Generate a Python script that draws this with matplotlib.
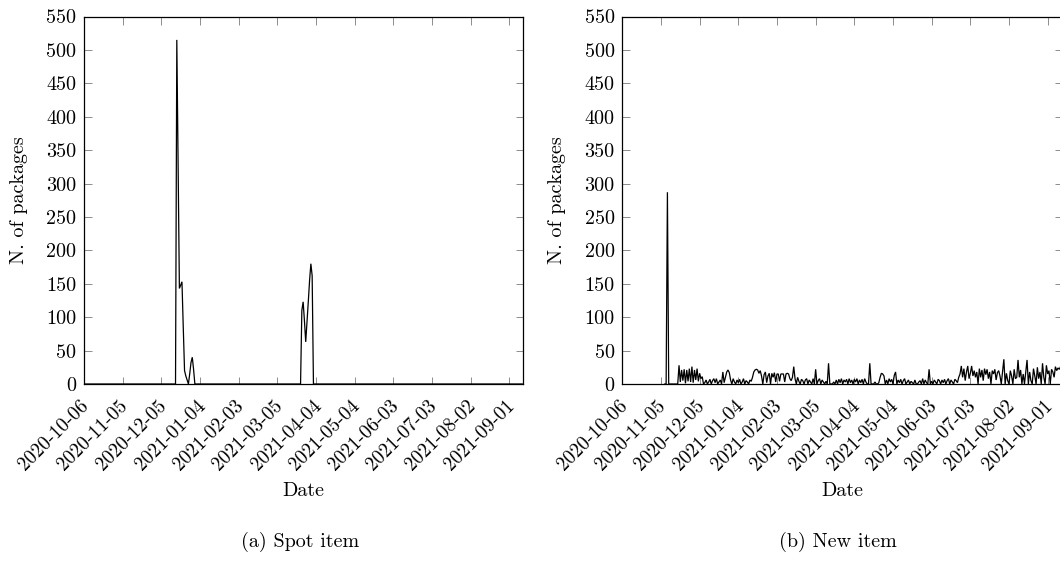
import matplotlib
matplotlib.use('Agg')
import matplotlib.pyplot as plt
import matplotlib.transforms as mtrans
import pandas as pd

# ---------------- data ----------------
tick_labels = ['2020-10-06', '2020-11-05', '2020-12-05', '2021-01-04', '2021-02-03',
               '2021-03-05', '2021-04-04', '2021-05-04', '2021-06-03', '2021-07-03',
               '2021-08-02', '2021-09-01']
y_ticks = [0, 50, 100, 150, 200, 250, 300, 350, 400, 450, 500, 550]

spot_dates = ['2020-10-06', '2020-12-16', '2020-12-17', '2020-12-18', '2020-12-19',
              '2020-12-20', '2020-12-21', '2020-12-22', '2020-12-23', '2020-12-24',
              '2020-12-25', '2020-12-26', '2020-12-27', '2020-12-28', '2020-12-29',
              '2020-12-30', '2020-12-31',
              '2021-03-23', '2021-03-24', '2021-03-25', '2021-03-26', '2021-03-27',
              '2021-03-28', '2021-03-29', '2021-03-30', '2021-03-31', '2021-04-01',
              '2021-04-02', '2021-09-11']
spot_values = [0, 0, 515, 330, 143,
               148, 153, 85, 20, 12,
               6, 0, 15, 32, 40,
               22, 0,
               0, 110, 123, 95, 63,
               93, 123, 155, 180, 162,
               0, 0]

new_start = '2020-11-08'
new_values = [
    0, 0, 287, 0,
    0, 0, 0, 0, 0, 0,
    0, 28, 3, 21, 5, 22, 1, 21, 4, 23, 3, 26, 2, 21, 6, 23, 4, 16, 8, 11,
    0, 2, 6, 0, 3, 7, 0, 5, 8, 2, 8, 0, 3, 6, 0,
    18, 2, 10, 18, 21, 17, 6,
    0, 8, 3, 0, 6, 2, 7, 0, 3, 8, 0, 5, 3, 0, 6, 4,
    10, 18, 21, 22, 21, 16, 20, 12,
    0, 14, 18, 2, 12, 16, 0, 16, 10, 17, 3,
    15, 15, 4, 15, 15, 15, 3, 15, 16, 15, 8,
    5, 10, 26, 8, 0, 10,
    4, 0, 7, 5, 0, 6, 8, 0, 6, 3, 0, 8, 0,
    22, 0, 5, 8, 0, 6, 3, 0, 4, 0,
    31, 0, 0, 0, 3, 0,
    6, 0, 7, 2, 8, 0, 6, 3, 7, 0, 8, 2, 6, 0, 7, 3, 8, 0, 6, 2, 7, 0, 8, 3,
    0, 0, 31, 0, 0, 0, 3, 0, 0, 2,
    10, 16, 15, 12, 0,
    6, 0, 8, 3, 7, 0, 13, 18, 0, 6, 2, 7, 0, 5, 8, 0, 3, 6, 0, 4, 2, 0,
    6, 0, 0, 3, 5, 0, 8, 0, 6, 2, 0, 22, 0,
    4, 0, 6, 3, 0, 7, 5, 0, 6, 2, 7, 0, 5, 8, 0, 6, 3, 0, 7, 5, 2, 10,
    15, 27, 10, 23, 5, 18, 27, 8, 16, 27, 12, 20, 10,
    18, 0, 23, 10, 21, 5, 23, 14, 22, 8, 18, 0, 20, 15, 22, 6, 17, 20, 12, 0,
    18, 37, 0, 16, 5, 0, 20, 12, 0, 22, 8, 10,
    36, 10, 21, 0, 15, 0, 18, 36, 0, 18,
    5, 0, 23, 12, 0, 25, 8, 18, 0, 31, 10, 0, 28, 15, 20, 0, 22, 18, 10, 26, 20, 24, 22, 26,
]

panel_titles = ['(a) Spot item', '(b) New item']
x_label = 'Date'
y_label = 'N. of packages'

# ---------------- style ----------------
plt.rcParams['font.family'] = ['cmr10', 'DejaVu Serif']
plt.rcParams['mathtext.fontset'] = 'cm'
plt.rcParams['axes.formatter.use_mathtext'] = True

W, H = 1060, 565
fig = plt.figure(figsize=(W / 100, H / 100), dpi=100)

ax_w = 439.3
ax_top, ax_bot = 16.5, 384.0
lefts = [84.0, 622.3]

x0 = pd.Timestamp('2020-10-06')
x1 = x0 + pd.Timedelta(days=340.8)
ticks = pd.to_datetime(tick_labels)

series = [
    (pd.to_datetime(spot_dates), spot_values),
    (pd.date_range(new_start, periods=len(new_values), freq='D'), new_values),
]

fs = 14.5
for i, (left, (xd, yd)) in enumerate(zip(lefts, series)):
    ax = fig.add_axes([left / W, 1 - ax_bot / H, ax_w / W, (ax_bot - ax_top) / H])
    ax.plot(xd, yd, color='black', lw=0.9, solid_joinstyle='miter')
    ax.set_xlim(x0, x1)
    ax.set_ylim(0, 550)
    ax.set_yticks(y_ticks)
    ax.set_yticklabels([str(v) for v in y_ticks], fontsize=fs)
    ax.set_xticks(ticks)
    ax.set_xticklabels(tick_labels, rotation=45, ha='right', va='top',
                       rotation_mode='anchor', fontsize=14)
    ax.tick_params(direction='in', length=5.4, width=0.7, color='0.55',
                   top=True, right=True)
    ax.tick_params(axis='y', pad=5.5)
    ax.tick_params(axis='x', pad=9)
    off = mtrans.ScaledTranslation(-4 / 100, 0, fig.dpi_scale_trans)
    for lab in ax.get_xticklabels():
        lab.set_transform(lab.get_transform() + off)
    for sp in ax.spines.values():
        sp.set_linewidth(0.9)
        sp.set_color('black')

    cx = left + ax_w / 2
    fig.text((left - 65) / W, 1 - 200 / H, y_label, rotation=90,
             ha='center', va='center', fontsize=fs)
    fig.text((cx) / W, 1 - 491 / H, x_label, ha='center', va='center', fontsize=fs)
    fig.text((cx - 4) / W, 1 - 542 / H, panel_titles[i], ha='center', va='center',
             fontsize=14.5)

fig.savefig('out.png', dpi=100)
